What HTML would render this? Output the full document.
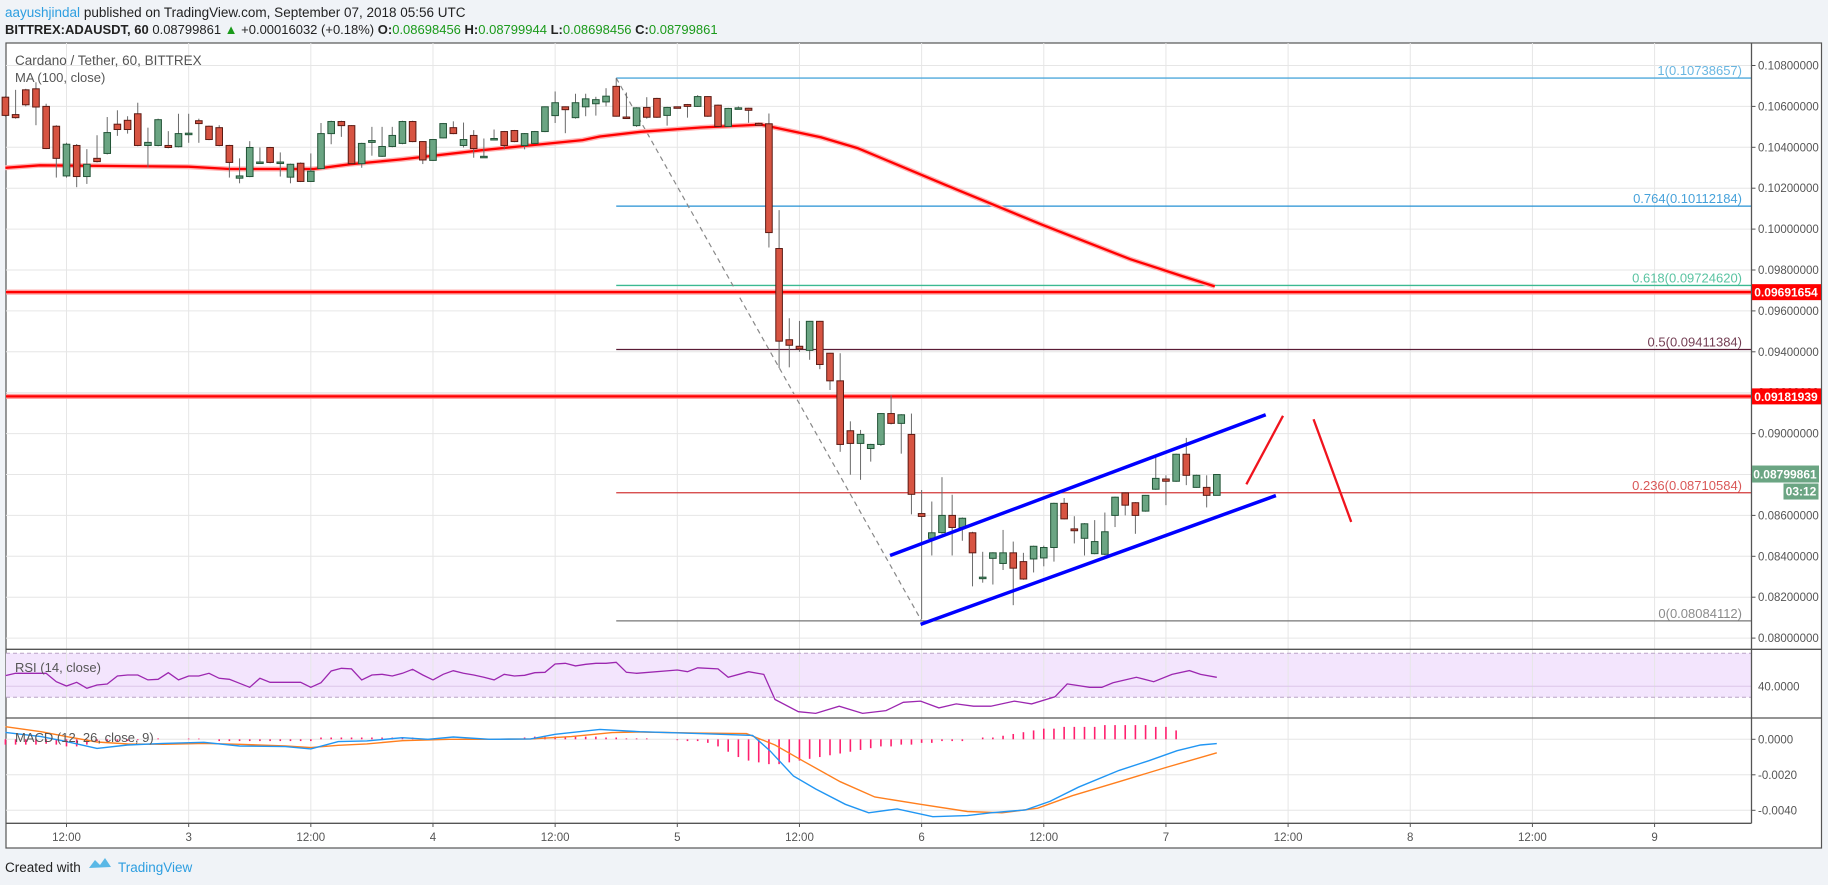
<!DOCTYPE html>
<html><head><meta charset="utf-8"><style>
html,body{margin:0;padding:0;background:#f0f3f7;width:1828px;height:885px;overflow:hidden;font-family:"Liberation Sans",sans-serif}
svg{position:absolute;left:0;top:0}
</style></head><body>
<svg id="chart" width="1828" height="885" xmlns="http://www.w3.org/2000/svg">
<g id="hdr">
<text x="5" y="17" font-size="13.5" fill="#222"><tspan fill="#2d9ee0">aayushjindal</tspan> published on TradingView.com, September 07, 2018 05:56 UTC</text>
<text x="5" y="34" font-size="13" fill="#222"><tspan font-weight="bold">BITTREX:ADAUSDT, 60</tspan> 0.08799861 <tspan fill="#1a9a1a">▲</tspan> +0.00016032 (+0.18%) <tspan font-weight="bold">O:</tspan><tspan fill="#1a9a1a">0.08698456</tspan> <tspan font-weight="bold">H:</tspan><tspan fill="#1a9a1a">0.08799944</tspan> <tspan font-weight="bold">L:</tspan><tspan fill="#1a9a1a">0.08698456</tspan> <tspan font-weight="bold">C:</tspan><tspan fill="#1a9a1a">0.08799861</tspan></text>
</g>
<rect x="6" y="43" width="1815.5" height="805" fill="#fff" stroke="#555" stroke-width="1.2"/>
<rect x="6" y="653.3" width="1745.5" height="44" fill="#f3e5fd"/>
<g id="grid"></g>
<g id="main"></g>
<g id="ind"></g>
<g id="axes"></g>
<text x="15" y="65" font-size="13.5" fill="#555">Cardano / Tether, 60, BITTREX</text>
<text x="15" y="82" font-size="13" fill="#555">MA (100, close)</text>
<text x="15" y="672" font-size="13" fill="#555">RSI (14, close)</text>
<text x="15" y="742" font-size="13" fill="#555">MACD (12, 26, close, 9)</text>
<g>
<text x="5" y="872" font-size="13.5" fill="#222">Created with</text>
<path d="M89 868 l6 -8 l5 5 l5 -7 l6 9 z" fill="#5ab8e6"/>
<text x="118" y="872" font-size="13.5" fill="#2d9ee0">TradingView</text>
</g>
</svg>
<script>
const T=[-6,-5,-4,-3,-2,-1,0,1,2,3,4,5,6,7,8,9,10,11,12,13,14,15,16,17,18,19,20,21,22,23,24,25,26,27,28,29,30,31,32,33,34,35,36,37,38,39,40,41,42,43,44,45,46,47,48,49,50,51,52,53,54,55,56,57,58,59,60,61,62,63,64,65,66,67,68,69,70,71,72,73,74,75,76,77,78,79,80,81,82,83,84,85,86,87,88,89,90,91,92,93,94,95,96,97,98,99,100,101,102,103,104,105,106,107,108,109,110,111,112,113];
const O=[.10645,.10560,.10681,.10686,.106,.10503,.10260,.10409,.10257,.10346,.10370,.10513,.10532,.10564,.10409,.10409,.10409,.10403,.10469,.10530,.10503,.10496,.10409,.10249,.10257,.10328,.10399,.10328,.10254,.10322,.10233,.10296,.10467,.10526,.10506,.10320,.10424,.10356,.10404,.10419,.10526,.10428,.10336,.10446,.10496,.10409,.10458,.10352,.10443,.10477,.10482,.10409,.10419,.10477,.10555,.10598,.10545,.10598,.10613,.10622,.10698,.10548,.10506,.10595,.10639,.10556,.10598,.10609,.10600,.10648,.10606,.10502,.10593,.10591,.10517,.10515,.09905,.09459,.09427,.09407,.09549,.09393,.09258,.09014,.08952,.08927,.08947,.09098,.09050,.08996,.08609,.08488,.08516,.08600,.08541,.08515,.08298,.08390,.08365,.08417,.08374,.08387,.08392,.08443,.08659,.08534,.08488,.08413,.08410,.08600,.08710,.08662,.08621,.08728,.08778,.08767,.08899,.08737,.08737,.08698];
const H=[.10650,.10681,.10686,.10718,.10613,.10508,.10422,.10416,.10391,.10459,.10548,.10581,.10552,.10618,.10496,.10540,.10479,.10564,.10564,.10540,.10506,.10508,.10412,.10346,.10430,.10399,.10402,.10375,.10320,.10326,.10370,.10519,.10530,.10530,.10508,.10422,.10500,.10500,.10500,.10530,.10530,.10430,.10440,.10519,.10527,.10521,.10484,.10443,.10487,.10480,.10485,.10470,.10480,.10600,.10673,.10600,.10662,.10662,.10647,.10689,.10738,.10668,.10596,.10645,.10642,.10598,.10600,.10612,.10655,.10650,.10609,.10593,.10600,.10593,.10520,.10565,.10093,.09564,.09551,.09551,.09551,.09395,.09393,.09060,.09018,.08950,.09100,.09187,.09095,.09098,.08724,.08668,.08787,.08701,.08590,.08520,.08422,.08420,.08529,.08472,.08417,.08452,.08452,.08662,.08685,.08596,.08562,.08577,.08614,.08692,.08713,.08665,.08700,.08890,.08796,.08902,.08979,.08799,.08796,.08800];
const L=[.10550,.10540,.10600,.10508,.10391,.10252,.10252,.10205,.10221,.10326,.10365,.10456,.10467,.10405,.10302,.10405,.10395,.10400,.10422,.10422,.10435,.10405,.10252,.10224,.10254,.10322,.10322,.10257,.10224,.10230,.10230,.10293,.10415,.10451,.10318,.10300,.10359,.10353,.10400,.10415,.10425,.10318,.10333,.10443,.10464,.10399,.10349,.10350,.10440,.10390,.10425,.10390,.10416,.10474,.10519,.10469,.10540,.10552,.10555,.10600,.10550,.10540,.10500,.10540,.10544,.10506,.10594,.10545,.10597,.10549,.10500,.10500,.10590,.10520,.10505,.09910,.09320,.09324,.09400,.09361,.09315,.09213,.08911,.08799,.08774,.08863,.08940,.09045,.08902,.08605,.08093,.08404,.08510,.08404,.08476,.08253,.08271,.08262,.08333,.08161,.08285,.08321,.08351,.08374,.08580,.08463,.08404,.08410,.08405,.08543,.08600,.08510,.08618,.08725,.08650,.08764,.08748,.08735,.08639,.08698];
const C=[.10556,.10545,.10608,.10597,.10394,.10346,.10415,.10257,.10317,.10330,.10472,.10487,.10487,.10409,.10424,.10535,.10399,.10467,.10469,.10516,.10438,.10409,.10326,.10260,.10399,.10328,.10326,.10328,.10317,.10233,.10283,.10467,.10526,.10506,.10320,.10419,.10433,.10404,.10458,.10526,.10428,.10338,.10438,.10516,.10467,.10438,.10394,.10356,.10443,.10409,.10428,.10467,.10477,.10598,.10618,.10584,.10618,.10637,.10633,.10650,.10552,.10545,.10593,.10547,.10547,.10595,.10596,.10600,.10648,.10552,.10502,.10590,.10593,.10581,.10508,.09983,.09452,.09432,.09414,.09549,.09338,.09258,.08947,.08952,.08996,.08947,.09098,.09050,.09092,.08703,.08595,.08515,.08600,.08541,.08586,.08417,.08298,.08417,.08417,.08342,.08289,.08449,.08443,.08659,.08583,.08525,.08559,.08472,.08520,.08689,.08650,.08600,.08698,.08781,.08767,.08899,.08796,.08796,.08698,.08800];
const maT=[-6,-2.6,12,16,24.3,27.8,32.9,40.8,44.8,50.7,52.4,56.4,62.3,68.2,74.1,77.7,86.7,95.8,104.5,109.6,112.8];
const maV=[.10300,.10312,.10305,.10294,.10294,.10317,.10341,.10386,.10406,.10435,.10453,.10476,.10497,.10511,.10449,.10396,.10209,.10022,.09853,.09770,.09720];
const rsiT=[-6,-5,-4,-3,-2,-1,0,1,2,3,4,5,6,7,8,9,10,11,12,13,14,15,16,17,18,19,20,21,22,23,24,25,26,27,28,29,30,31,32,33,34,35,36,37,38,39,40,41,42,43,44,45,46,47,48,49,50,51,52,53,54,55,56,60,61,62,64,65,67,68.5,69.6,71.9,73.6,75.9,78.2,80.5,82.2,83.9,85.7,87.4,89.1,90.8,93.1,94.8,97.1,98.3,100.5,101.7,102.8,105.1,106.8,108.6,110.3,111.4,113];
const rsiV=[49.7,51.8,51.8,51.8,51.8,44.2,40.3,43.6,38.2,41.2,42.1,49.4,50.3,50.3,45.8,46.4,52.4,45.8,49.4,49.4,51.8,47.3,46.4,42.7,39.1,47.3,43.6,43.6,43.6,43.6,39.1,43.3,53.9,56.4,55.8,45.8,50.3,50.9,49.4,51.8,55.5,50.3,45.8,50.9,54.2,51.8,50.3,48.2,45.8,50.9,49.4,50.0,52.4,52.7,60.3,60.9,58.5,60.0,60.9,60.9,61.8,52.7,51.8,54.8,53.3,56.8,55.8,48.2,53.3,50.8,28,16.9,15.4,21.9,15.4,17.9,25.5,26.5,20.4,24,21.9,21.9,26.5,24,30.5,42.2,39.1,39.1,43.2,48.2,44.2,50.8,54.3,50.8,48.2,51.8];
const macdT=[-6,-2.5,0,3,6,9.5,13.5,17,21.5,24,26.7,29.5,33,35.5,38,41.6,45.6,48,52.4,56.3,62.2,67.4,69.1,71.4,73.6,76.5,78.8,81.6,85.1,88.5,90.8,94.2,96.6,99.4,103.4,106.3,109.1,111.4,113];
const macdV=[.00039,.00015,-.00013,-.00051,-.00032,-.00023,-.00017,-.00038,-.00041,-.00054,-.00013,-.00009,.00009,0,.00013,0,.00002,.00028,.00056,.00043,.00032,.00022,-.00064,-.00207,-.0028,-.00366,-.00414,-.00392,-.00436,-.0043,-.00414,-.00398,-.0035,-.0027,-.00175,-.00121,-.00064,-.00032,-.00024];
const sigT=[-6,-2.5,0,3,6,9.5,13.5,17,21.5,24,26.7,29.5,33,37.6,41.6,45.6,49.6,53.6,56.3,62,66.8,69.6,72.5,76,79.4,83.9,88.5,91.9,95.4,98.8,103.4,108,113];
const sigV=[.00071,.00043,.00015,-.00015,-.00026,-.00028,-.00023,-.00028,-.00038,-.00047,-.00034,-.00026,-.00008,0,0,.00002,.00015,.00038,.00041,.00035,.00032,-.00032,-.00127,-.00239,-.00325,-.00366,-.00407,-.00414,-.00388,-.00318,-.00239,-.00159,-.00076];
const histV=[-3,-3,-3,-3,-2.5,-3,-4,-4,-3,-1,-1,-1,-1,-.5,0,.5,0,0,.4,.4,0,-1,-1,-1,-1,-1,-1,-1,-1,-1,-1,1,1,1,1,1,1,1,1,1,1,0,0,0,0,0,0,0,0,0,0,1,1.5,1.5,1.5,1.5,1.5,1.5,1.5,1,1,.5,.5,.5,0,0,-.5,-1,-1,-2,-4,-7,-10,-12,-13,-14,-14,-13,-12,-11,-10,-9,-8,-7,-6,-5,-4,-4,-3,-3,-2,-2,-1,-1,-1,0,1,1,2,3,4,5,6,6,7,7,7,7,8,8,8,8,8,7,7,5];
const priceTicks=[.108,.106,.104,.102,.100,.098,.096,.094,.092,.090,.088,.086,.084,.082,.080];
const timeTickT=[0,12,24,36,48,60,72,84,96,108,120,132,144,156];
const timeTickL=["12:00","3","12:00","4","12:00","5","12:00","6","12:00","7","12:00","8","12:00","9"];
const fibL=["1","0.764","0.618","0.5","0.236","0"];
const fibV=[0.10738657,0.10112184,0.09724620,0.09411384,0.08710584,0.08084112];
const fibCol=["#4fa9dc","#2591d4","#3cb991","#5a1c35","#d23a3a","#777"];
const resV=[0.09691654,0.09181939];
const lastPrice=0.08799861;
const macdTicks=[0,-0.002,-0.004];
const chanUpT=[80.9,117.8], chanUpV=[.08404,.09092];
const chanLoT=[83.9,118.8], chanLoV=[.08067,.08697];
const arrowUpT=[115.9,119.5], arrowUpV=[.08752,.09087];
const arrowDnT=[122.5,126.2], arrowDnV=[.09070,.08568];
const fibStartT=54, fibLowT=84;

const NS="http://www.w3.org/2000/svg";
const X0=6, XR=1751.5;
const xt=t=>66.5+t*10.18;
const yp=p=>65.5+(0.108-p)*20450;
const yr=v=>653.3+(70-v)*1.1;
const ym=v=>739.3-v*17750;
function mk(tag,attrs,parent){const e=document.createElementNS(NS,tag);for(const k in attrs)e.setAttribute(k,attrs[k]);parent.appendChild(e);return e;}
const grid=document.getElementById('grid'),main=document.getElementById('main'),ind=document.getElementById('ind'),axes=document.getElementById('axes');

priceTicks.forEach(p=>{
 const l=mk('line',{x1:X0,x2:XR,y1:yp(p),y2:yp(p),stroke:'#e6e6e6'},grid);
 
 
 const t=mk('text',{x:1758,y:yp(p)+4,'font-size':11.5,fill:'#555'},axes);
 t.textContent=p.toFixed(8);
 
 
 mk('line',{x1:XR,x2:XR+4,y1:yp(p),y2:yp(p),stroke:'#555'},axes);
});
timeTickT.forEach((tt,i)=>{
 const l=mk('line',{x1:xt(tt),x2:xt(tt),y1:43,y2:823,stroke:'#e6e6e6'},grid);
 
 
 const t=mk('text',{x:xt(tt),y:841,'font-size':11.5,fill:'#555','text-anchor':'middle'},axes);
 t.textContent=timeTickL[i];
 
 
 mk('line',{x1:xt(tt),x2:xt(tt),y1:823,y2:827,stroke:'#555'},axes);
});
// rsi 40 line & dashed bands
[[653.3,'4 3','#b9a3c6'],[697.3,'4 3','#b9a3c6'],[yr(40),'','#dcc6ea']].forEach(d=>{
 const l=mk('line',{x1:X0,x2:XR,y1:d[0],y2:d[0],stroke:d[2],'stroke-dasharray':d[1]},grid);
 
 
});
macdTicks.forEach(v=>{
 const l=mk('line',{x1:X0,x2:XR,y1:ym(v),y2:ym(v),stroke:'#e6e6e6'},grid);
 
 
 const t=mk('text',{x:1758,y:ym(v)+4,'font-size':11.5,fill:'#555'},axes);
 t.textContent=v.toFixed(4);
 
 
 mk('line',{x1:XR,x2:XR+4,y1:ym(v),y2:ym(v),stroke:'#555'},axes);
});
{const t=mk('text',{x:1758,y:yr(40)+4,'font-size':11.5,fill:'#555'},axes);t.textContent='40.0000';

}
// pane separators
[[X0,1821.5,649.3,649.3],[X0,1821.5,718,718],[X0,XR,823.3,823.3],[XR,XR,43,823.3]].forEach(s=>{
 const l=mk('line',{x1:s[0],x2:s[1],y1:s[2],y2:s[3],stroke:'#555','stroke-width':1.3},axes);
 
 
});
// fib levels
fibV.forEach((v,i)=>{
 const l=mk('line',{x1:xt(fibStartT),x2:XR,y1:yp(v),y2:yp(v),stroke:fibCol[i],'stroke-width':1.3},main);
 
 
 const t=mk('text',{x:1742,y:yp(v)-3,'font-size':13,fill:fibCol[i],'text-anchor':'end','fill-opacity':0.85},main);
 t.textContent=fibL[i]+'('+v.toFixed(8)+')';
 
 
});
// dashed trend
{const l=mk('line',{x1:xt(fibStartT),y1:yp(fibV[0]),x2:xt(fibLowT),y2:yp(fibV[5]),stroke:'#888','stroke-dasharray':'5 4','stroke-width':1.2},main);

}
// resistance lines
resV.forEach(v=>{
 mk('line',{x1:X0,x2:XR,y1:yp(v),y2:yp(v),stroke:'#ff9a9a','stroke-width':5},main);
 const l=mk('line',{x1:X0,x2:XR,y1:yp(v),y2:yp(v),stroke:'#f00','stroke-width':2.2},main);
 
 
 mk('rect',{x:1752,y:yp(v)-8,width:69,height:16,fill:'#f00'},axes);
 const t=mk('text',{x:1786,y:yp(v)+4.5,'font-size':12,fill:'#fff','font-weight':'bold','text-anchor':'middle'},axes);
 t.textContent=v.toFixed(8);
 
 
});
// MA
{let d=maT.map((t,i)=>(i?'L':'M')+xt(t).toFixed(1)+' '+yp(maV[i]).toFixed(1)).join(' ');
mk('path',{d:d,fill:'none',stroke:'#ffb3b3','stroke-width':5},main);
const p=mk('path',{d:d,fill:'none',stroke:'#f00','stroke-width':2.3},main);

}
// candles
T.forEach((t,i)=>{
 const up=C[i]>=O[i];const x=xt(t);
 const g=mk('g',{},main);
 
 
 mk('line',{x1:x,x2:x,y1:yp(H[i]),y2:yp(L[i]),stroke:'#6a6a6a','stroke-width':1},g);
 const top=yp(Math.max(O[i],C[i])),bh=Math.max(1.5,yp(Math.min(O[i],C[i]))-top);
 mk('rect',{x:x-3.3,y:top,width:6.6,height:bh,fill:up?'#6ba583':'#d75442',stroke:up?'#225437':'#5b1a13','stroke-width':1},g);
});
// channel
[[chanUpT,chanUpV,'channel-upper-line'],[chanLoT,chanLoV,'channel-lower-line']].forEach(c=>{
 const l=mk('line',{x1:xt(c[0][0]),y1:yp(c[1][0]),x2:xt(c[0][1]),y2:yp(c[1][1]),stroke:'#0000ff','stroke-width':3.5},main);
 
 
});
[[arrowUpT,arrowUpV,'projection-up-line'],[arrowDnT,arrowDnV,'projection-down-line']].forEach(c=>{
 const l=mk('line',{x1:xt(c[0][0]),y1:yp(c[1][0]),x2:xt(c[0][1]),y2:yp(c[1][1]),stroke:'#f0141e','stroke-width':2.3},main);
 
 
});
// last price label
{const y=yp(lastPrice);
mk('rect',{x:1752,y:y-9,width:67,height:17,fill:'#6ba583'},axes);
const t=mk('text',{x:1785,y:y+4,'font-size':12,fill:'#fff','font-weight':'bold','text-anchor':'middle'},axes);
t.textContent=lastPrice.toFixed(8);


mk('rect',{x:1783.5,y:y+9,width:35,height:16,fill:'#6ba583'},axes);
const t2=mk('text',{x:1801,y:y+21,'font-size':12,fill:'#fff','font-weight':'bold','text-anchor':'middle'},axes);
t2.textContent='03:12';

}
// RSI
{const d=rsiT.map((t,i)=>(i?'L':'M')+xt(t).toFixed(1)+' '+yr(rsiV[i]).toFixed(1)).join(' ');
const p=mk('path',{d:d,fill:'none',stroke:'#9c27b0','stroke-width':1.3},ind);

}
// MACD histogram
T.forEach((t,i)=>{
 const v=histV[i]*1e-4;if(!v)return;
 const b=mk('line',{x1:xt(t),x2:xt(t),y1:ym(0),y2:ym(v),stroke:'#ff1f6e','stroke-width':1.6},ind);
 
 
});
[[sigT,sigV,'#ff7f1e','macd-signal-line'],[macdT,macdV,'#2196f3','macd-line']].forEach(s=>{
 const d=s[0].map((t,i)=>(i?'L':'M')+xt(t).toFixed(1)+' '+ym(s[1][i]).toFixed(1)).join(' ');
 const p=mk('path',{d:d,fill:'none',stroke:s[2],'stroke-width':1.4},ind);
 
 
});
</script>
</body></html>
